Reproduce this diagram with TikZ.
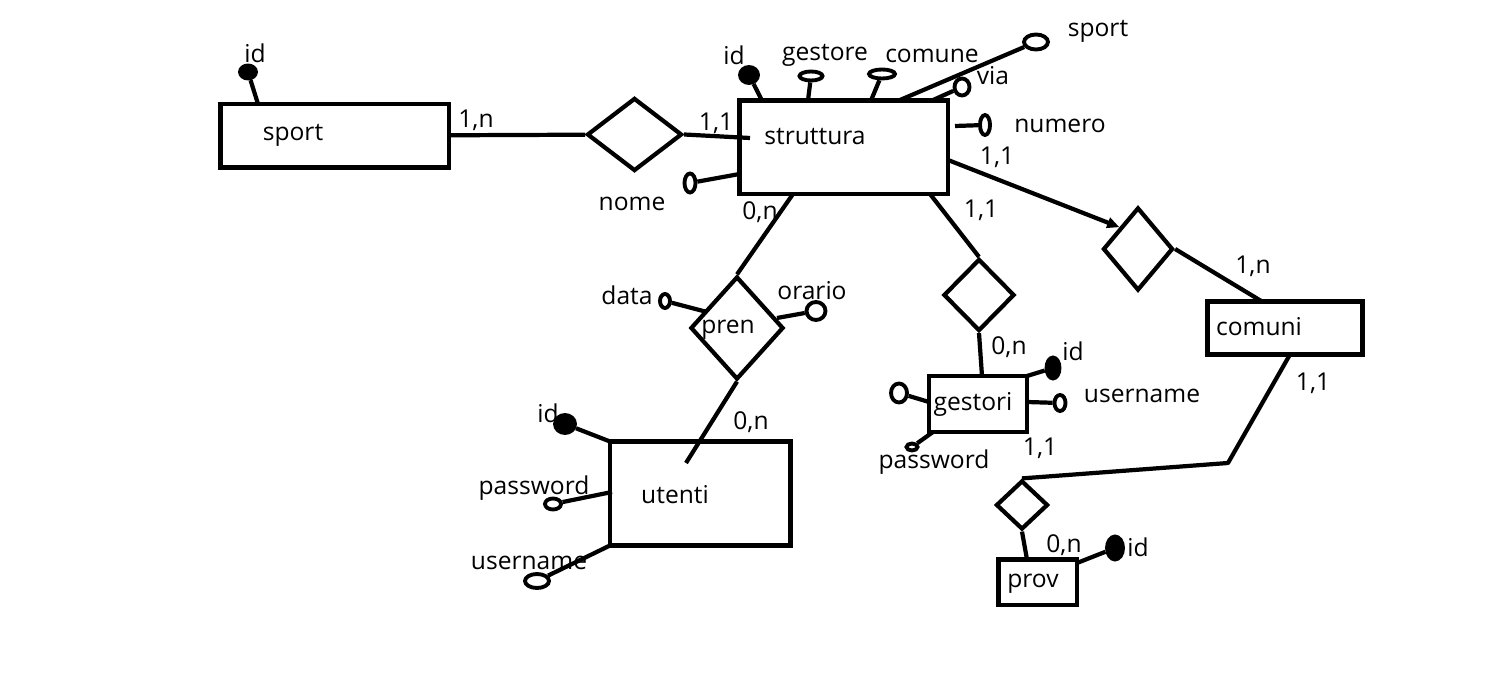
\documentclass[tikz,border=0pt]{standalone}
\usepackage{fontspec}
\setmainfont{Open Sans}
\usetikzlibrary{arrows.meta,shapes.geometric,fit}
\newlength{\px}
\setlength{\px}{0.02cm}

\begin{document}
\begin{tikzpicture}[
  x=0.02cm, y=-0.02cm,
  every node/.style={font=\fontsize{14}{16}\selectfont, inner sep=0pt},
  line/.style={line width=2.4pt, line join=round},
  entity/.style={draw, line width=2.4pt, inner sep=0pt},
  rel/.style={draw, diamond, line width=2.4pt, inner sep=0pt},
  attr/.style={draw, ellipse, line width=2.2pt, inner sep=0pt},
  key/.style={attr, fill=black}
]
\useasboundingbox (0,0) rectangle (1511,678);

% entities
\node[entity, fit={(220.5,104) (449,167.5)}] (sport) {};
\node[entity, fit={(739.5,100.5) (948,194)}] (struttura) {};
\node[entity, fit={(610,441.5) (790.5,545.5)}] (utenti) {};
\node[entity, fit={(929,376) (1027,432)}] (gestori) {};
\node[entity, fit={(1207.5,301.5) (1362.5,354.5)}] (comuni) {};
\node[entity, fit={(998.5,559.5) (1077,605)}] (prov) {};

% relationships
\node[rel, minimum width=95\px, minimum height=73\px] (r-sport) at (634.5,134.5) {};
\node[rel, minimum width=93\px, minimum height=103\px] (r-pren) at (737,328) {};
\node[rel, minimum width=71\px, minimum height=72\px] (r-gest) at (979,295) {};
\node[rel, minimum width=70\px, minimum height=83\px] (r-com) at (1138,249) {};
\node[rel, minimum width=52\px, minimum height=49\px] (r-prov) at (1022,505) {};

% connector ends
\coordinate (f-st-rel) at (750,138);
\coordinate (f-st-pren) at (793,194);
\coordinate (f-st-gest) at (930,194);
\coordinate (f-st-com) at (948,160);
\coordinate (f-ut-in) at (686,463);
\coordinate (f-ge-top) at (982,376);
\coordinate (f-co-top) at (1262,301.5);
\coordinate (f-co-bot) at (1290,354.5);
\coordinate (c-bend) at (1228,463);
\coordinate (f-pv-top) at (1027,559.5);

\draw[line] (sport) -- (r-sport);
\draw[line] (r-sport.east) -- (f-st-rel);
\draw[line] (f-st-pren) -- (r-pren.north);
\draw[line] (r-pren.south) -- (f-ut-in);
\draw[line] (f-st-gest) -- (r-gest.north);
\draw[line] (r-gest.south) -- (f-ge-top);
\draw[line, -{Triangle[length=7pt, width=6pt]}] (f-st-com) -- (r-com.north west);
\draw[line] (r-com.east) -- (f-co-top);
\draw[line] (f-co-bot) -- (c-bend) -- (r-prov.north);
\draw[line] (r-prov.south) -- (f-pv-top);

% attributes
\node[key, minimum width=16\px, minimum height=13\px] (a-sp-id) at (248,72) {};
\node[key, minimum width=18\px, minimum height=16\px] (a-st-id) at (749,75) {};
\node[attr, minimum width=23\px, minimum height=9\px] (a-st-ges) at (811,76) {};
\node[attr, minimum width=26\px, minimum height=9\px] (a-st-com) at (882,74) {};
\node[attr, minimum width=24\px, minimum height=15\px] (a-st-spo) at (1036,42) {};
\node[attr, minimum width=15\px, minimum height=17\px] (a-st-via) at (962,87) {};
\node[attr, minimum width=10\px, minimum height=20\px] (a-st-num) at (985,125) {};
\node[attr, minimum width=11\px, minimum height=19\px] (a-st-nom) at (690,183) {};
\node[attr, minimum width=10\px, minimum height=14\px] (a-pr-data) at (665,301) {};
\node[attr, minimum width=19\px, minimum height=18\px] (a-pr-ora) at (816,311) {};
\node[key, minimum width=13\px, minimum height=21\px] (a-ge-id) at (1053,368) {};
\node[attr, minimum width=11\px, minimum height=16\px] (a-ge-un) at (1060,403) {};
\node[attr, minimum width=16\px, minimum height=19\px] (a-ge-lft) at (899,393) {};
\node[attr, minimum width=11\px, minimum height=7\px] (a-ge-pw) at (912,447) {};
\node[key, minimum width=20\px, minimum height=18\px] (a-ut-id) at (565,424) {};
\node[attr, minimum width=16\px, minimum height=11\px] (a-ut-pw) at (553,504) {};
\node[attr, minimum width=24\px, minimum height=14\px] (a-ut-un) at (537,581) {};
\node[key, minimum width=16\px, minimum height=23\px] (a-pv-id) at (1115,548) {};

\coordinate (f-sp-id) at (258,104);
\coordinate (f-st-id) at (762,100.5);
\coordinate (f-st-ges) at (808,100.5);
\coordinate (f-st-com2) at (871,100.5);
\coordinate (f-st-spo) at (900,100);
\coordinate (f-st-via) at (932,100.5);
\coordinate (f-st-num) at (955,126);
\coordinate (f-st-nom) at (739.5,174);
\coordinate (f-pr-data) at (707,312);
\coordinate (f-pr-ora) at (777,318);
\coordinate (f-ge-id) at (1027,376);
\coordinate (f-ge-un) at (1027,402);
\coordinate (f-ge-lft) at (929,402);
\coordinate (f-ge-pw) at (933,432);
\coordinate (f-ut-id) at (610,441.5);
\coordinate (f-ut-pw) at (612,492);
\coordinate (f-ut-un) at (610,545.5);
\coordinate (f-pv-id) at (1077,563);

\draw[line] (a-sp-id) -- (f-sp-id);
\draw[line] (a-st-id) -- (f-st-id);
\draw[line] (a-st-ges) -- (f-st-ges);
\draw[line] (a-st-com) -- (f-st-com2);
\draw[line] (a-st-spo) -- (f-st-spo);
\draw[line] (a-st-via) -- (f-st-via);
\draw[line] (a-st-num) -- (f-st-num);
\draw[line] (a-st-nom) -- (f-st-nom);
\draw[line] (a-pr-data) -- (f-pr-data);
\draw[line] (a-pr-ora) -- (f-pr-ora);
\draw[line] (a-ge-id) -- (f-ge-id);
\draw[line] (a-ge-un) -- (f-ge-un);
\draw[line] (a-ge-lft) -- (f-ge-lft);
\draw[line] (a-ge-pw) -- (f-ge-pw);
\draw[line] (a-ut-id) -- (f-ut-id);
\draw[line] (a-ut-pw) -- (f-ut-pw);
\draw[line] (a-ut-un) -- (f-ut-un);
\draw[line] (a-pv-id) -- (f-pv-id);

\begin{scope}[every node/.append style={yshift=-2\px}]
% names
\node (sport-txt) at (293,133) {sport};
\node (struttura-txt) at (815,135) {struttura};
\node (utenti-txt) at (675,493) {utenti};
\node (gestori-txt) at (973,402) {gestori};
\node (comuni-txt) at (1259,325) {comuni};
\node (prov-txt) at (1033,582) {prov};
\node (pren-txt) at (728,328) {pren};

% attribute names
\node (l-sp-id) at (255,51) {id};
\node (l-st-id) at (734,53) {id};
\node (l-st-ges) at (825,53) {gestore};
\node (l-st-com) at (932,54) {comune};
\node (l-st-spo) at (1098,29) {sport};
\node (l-st-via) at (993,74) {via};
\node (l-st-num) at (1060,124) {numero};
\node (l-st-nom) at (632,202) {nome};
\node (l-pr-data) at (627,293) {data};
\node (l-pr-ora) at (812,289) {orario};
\node (l-ge-id) at (1073,349) {id};
\node (l-ge-un) at (1142,394) {username};
\node (l-ge-pw) at (934,460) {password};
\node (l-ut-id) at (548,411) {id};
\node (l-ut-pw) at (534,486) {password};
\node (l-ut-un) at (529,561) {username};
\node (l-pv-id) at (1138,545) {id};

% cardinalities
\node (c1) at (476,118) {1,n};
\node (c2) at (716,121) {1,1};
\node (c3) at (997,155) {1,1};
\node (c4) at (760,210) {0,n};
\node (c5) at (981,208) {1,1};
\node (c6) at (1253,264) {1,n};
\node (c7) at (1009,345) {0,n};
\node (c8) at (1040,446) {1,1};
\node (c9) at (1313,381) {1,1};
\node (c10) at (751,420) {0,n};
\node (c11) at (1064,543) {0,n};
\end{scope}
\end{tikzpicture}
\end{document}
